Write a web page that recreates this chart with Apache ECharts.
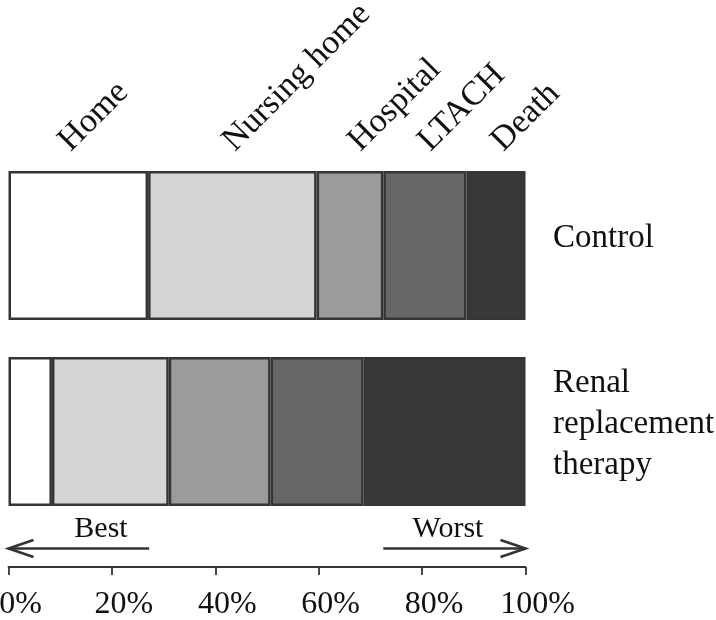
<!DOCTYPE html>
<html>
<head>
<meta charset="utf-8">
<script src="https://cdn.jsdelivr.net/npm/echarts@6/dist/echarts.min.js"></script>
<style>html,body{margin:0;padding:0;background:#fff}#c{width:716px;height:620px}</style>
</head>
<body>
<div id="c"></div>
<script>
// ---- data ----
const groups = ['Renal\nreplacement\ntherapy', 'Control']; // bottom to top
const outcomes = ['Home', 'Nursing home', 'Hospital', 'LTACH', 'Death'];
const controlPct = [27.0, 32.6, 12.9, 16.1, 11.4];
const rrtPct = [8.4, 22.6, 19.7, 18.0, 31.3];
const tickValues = [0, 20, 40, 60, 80, 100];
const bestLabel = 'Best';
const worstLabel = 'Worst';

// ---- style ----
const colors = ['#ffffff', '#d5d5d5', '#9b9b9b', '#666666', '#383838'];
const FONT = 'Liberation Serif';
const labelOffsets = [-2, 8, 16, 11, 13];

const chart = echarts.init(document.getElementById('c'), null, {renderer: 'canvas'});

const series = outcomes.map((name, i) => ({
  name: name,
  type: 'bar',
  stack: 'all',
  barWidth: 149,
  data: [rrtPct[i], controlPct[i]],
  itemStyle: {color: colors[i], borderColor: '#353535', borderWidth: 2.5},
  emphasis: {disabled: true},
  silent: true
}));

chart.setOption({
  animation: false,
  backgroundColor: '#fff',
  grid: {left: 8.5, right: 190.5, top: 152.5, bottom: 95.5, containLabel: false, outerBoundsMode: 'none'},
  xAxis: {
    type: 'value', min: 0, max: 100, interval: 20, position: 'bottom', offset: 42.5,
    axisLine: {show: true, lineStyle: {color: '#333', width: 1.8}},
    axisTick: {show: true, length: 8, inside: false, lineStyle: {color: '#333', width: 1.8}},
    splitLine: {show: false},
    axisLabel: {
      formatter: v => tickValues.includes(v) ? v + '%' : '',
      fontFamily: FONT, fontSize: 32, color: '#111', margin: 22, padding: [0, 0, 0, 24],
      showMinLabel: true, showMaxLabel: true, hideOverlap: false
    }
  },
  yAxis: {
    type: 'category', data: groups, position: 'right',
    axisLine: {show: false}, axisTick: {show: false}, splitLine: {show: false},
    axisLabel: {show: false}
  },
  series: series
});

const graphics = [];
// group labels on the right
const xRight = chart.convertToPixel({xAxisIndex: 0}, 100);
groups.forEach((g, i) => {
  const cy = chart.convertToPixel({yAxisIndex: 0}, g);
  graphics.push({
    type: 'text', x: xRight + 27.5, y: cy - 7,
    style: {text: g, fontFamily: FONT, fontSize: 33, lineHeight: 41, fill: '#111', align: 'left', verticalAlign: 'middle'}
  });
});
// outcome labels above control bar
let cum = 0;
outcomes.forEach((name, i) => {
  const mid = cum + controlPct[i] / 2;
  cum += controlPct[i];
  const px = chart.convertToPixel({xAxisIndex: 0}, mid);
  graphics.push({
    type: 'text', x: px + labelOffsets[i], y: 158, rotation: Math.PI / 4,
    style: {text: name, fontFamily: FONT, fontSize: 34, fill: '#111', align: 'left', verticalAlign: 'bottom'}
  });
});
// Best / Worst arrows
const x0 = chart.convertToPixel({xAxisIndex: 0}, 0);
const xBestEnd = chart.convertToPixel({xAxisIndex: 0}, 27.2);
const xWorstStart = chart.convertToPixel({xAxisIndex: 0}, 72.5);
const x100 = xRight;
const ay = 548.5;
const arrowStyle = {stroke: '#333', lineWidth: 2.6, fill: null};
graphics.push({type: 'polyline', shape: {points: [[x0, ay], [xBestEnd, ay]]}, style: arrowStyle});
graphics.push({type: 'polyline', shape: {points: [[x0 + 25, ay - 8.5], [x0, ay], [x0 + 25, ay + 8.5]]}, style: arrowStyle});
graphics.push({type: 'polyline', shape: {points: [[xWorstStart, ay], [x100, ay]]}, style: arrowStyle});
graphics.push({type: 'polyline', shape: {points: [[x100 - 25, ay - 8.5], [x100, ay], [x100 - 25, ay + 8.5]]}, style: arrowStyle});
graphics.push({type: 'text', x: 101, y: 529, style: {text: bestLabel, fontFamily: FONT, fontSize: 30, fill: '#111', align: 'center', verticalAlign: 'middle'}});
graphics.push({type: 'text', x: 448, y: 529, style: {text: worstLabel, fontFamily: FONT, fontSize: 30, fill: '#111', align: 'center', verticalAlign: 'middle'}});
chart.setOption({graphic: graphics});
</script>
</body>
</html>
